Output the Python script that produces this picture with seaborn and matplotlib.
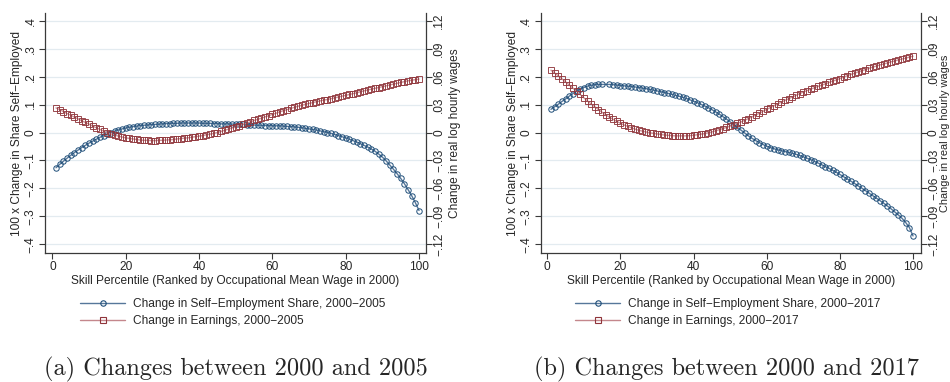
import numpy as np
import pandas as pd
import matplotlib
matplotlib.use("Agg")
import matplotlib.pyplot as plt
from matplotlib.lines import Line2D
import seaborn as sns

# ---------------- data ----------------
percentile = list(range(1, 101))

self_emp_2005 = [
    -0.126, -0.114, -0.103, -0.092, -0.082, -0.072, -0.063, -0.054, -0.046, -0.038,
    -0.031, -0.024, -0.017, -0.011, -0.005, 0.000, 0.005, 0.009, 0.013, 0.016,
    0.019, 0.021, 0.023, 0.025, 0.026, 0.027, 0.028, 0.029, 0.030, 0.031,
    0.032, 0.032, 0.033, 0.033, 0.034, 0.034, 0.034, 0.034, 0.034, 0.034,
    0.033, 0.033, 0.033, 0.032, 0.032, 0.031, 0.031, 0.031, 0.030, 0.030,
    0.029, 0.029, 0.028, 0.028, 0.027, 0.026, 0.026, 0.025, 0.025, 0.024,
    0.024, 0.024, 0.023, 0.022, 0.021, 0.020, 0.019, 0.017, 0.015, 0.013,
    0.011, 0.009, 0.006, 0.003, 0.000, -0.003, -0.007, -0.011, -0.015, -0.019,
    -0.024, -0.029, -0.034, -0.040, -0.046, -0.052, -0.059, -0.067, -0.077, -0.088,
    -0.101, -0.116, -0.131, -0.147, -0.164, -0.183, -0.204, -0.226, -0.251, -0.279,
]

earn_2005 = [
    0.0264, 0.0246, 0.0225, 0.0204, 0.0186, 0.0165, 0.0147, 0.0126, 0.0108, 0.0090,
    0.0069, 0.0051, 0.0033, 0.0015, -0.0003, -0.0015, -0.0027, -0.0039, -0.0048, -0.0057,
    -0.0063, -0.0069, -0.0075, -0.0081, -0.0084, -0.0084, -0.0087, -0.0087, -0.0084, -0.0084,
    -0.0081, -0.0078, -0.0075, -0.0069, -0.0066, -0.0060, -0.0057, -0.0051, -0.0045, -0.0039,
    -0.0033, -0.0024, -0.0018, -0.0009, 0.0000, 0.0012, 0.0024, 0.0036, 0.0048, 0.0060,
    0.0072, 0.0087, 0.0099, 0.0114, 0.0129, 0.0141, 0.0153, 0.0168, 0.0180, 0.0195,
    0.0207, 0.0222, 0.0234, 0.0246, 0.0258, 0.0270, 0.0282, 0.0291, 0.0303, 0.0312,
    0.0321, 0.0330, 0.0339, 0.0348, 0.0354, 0.0363, 0.0372, 0.0381, 0.0390, 0.0399,
    0.0408, 0.0417, 0.0426, 0.0438, 0.0447, 0.0456, 0.0465, 0.0474, 0.0483, 0.0492,
    0.0501, 0.0510, 0.0519, 0.0528, 0.0537, 0.0546, 0.0555, 0.0561, 0.0567, 0.0573,
]

self_emp_2017 = [
    0.083, 0.092, 0.101, 0.111, 0.120, 0.130, 0.139, 0.148, 0.155, 0.161,
    0.166, 0.169, 0.171, 0.172, 0.172, np.nan, 0.172, 0.171, 0.170, 0.168,
    0.167, 0.166, 0.164, 0.163, 0.161, 0.159, 0.157, 0.154, 0.152, 0.149,
    0.146, 0.143, 0.140, 0.137, 0.133, 0.130, 0.126, 0.122, 0.117, 0.112,
    0.107, 0.101, 0.095, 0.089, 0.082, 0.074, 0.066, 0.057, 0.048, 0.038,
    0.028, 0.018, 0.008, -0.002, -0.012, -0.021, -0.029, -0.036, -0.043, -0.049,
    -0.054, -0.058, -0.062, -0.065, -0.068, -0.071, -0.074, -0.078, -0.082, -0.087,
    -0.092, -0.097, -0.103, -0.109, -0.115, -0.122, -0.128, -0.135, -0.142, -0.150,
    -0.158, -0.166, -0.174, -0.182, -0.191, -0.199, -0.208, -0.217, -0.226, -0.235,
    -0.244, -0.253, -0.263, -0.273, -0.284, -0.295, -0.307, -0.322, -0.340, -0.370,
]

earn_2017 = [
    0.0669, 0.0639, 0.0609, 0.0576, 0.0543, 0.0510, 0.0477, 0.0441, 0.0408, 0.0372,
    0.0339, 0.0306, 0.0276, 0.0246, 0.0216, 0.0189, 0.0165, 0.0141, 0.0120, 0.0099,
    0.0081, 0.0066, 0.0051, 0.0036, 0.0024, 0.0015, 0.0006, -0.0003, -0.0009, -0.0015,
    -0.0021, -0.0027, -0.0030, -0.0033, -0.0036, -0.0036, -0.0036, -0.0036, -0.0033, -0.0030,
    -0.0024, -0.0018, -0.0012, -0.0003, 0.0006, 0.0018, 0.0030, 0.0042, 0.0054, 0.0069,
    0.0084, 0.0099, 0.0114, 0.0132, 0.0150, 0.0168, 0.0189, 0.0207, 0.0228, 0.0249,
    0.0267, 0.0288, 0.0306, 0.0327, 0.0345, 0.0363, 0.0381, 0.0399, 0.0417, 0.0435,
    0.0450, 0.0465, 0.0480, 0.0495, 0.0507, 0.0522, 0.0537, 0.0552, 0.0564, 0.0579,
    0.0594, 0.0609, 0.0624, 0.0636, 0.0651, 0.0663, 0.0675, 0.0690, 0.0702, 0.0714,
    0.0726, 0.0735, 0.0747, 0.0759, 0.0768, 0.0780, 0.0789, 0.0798, 0.0810, 0.0819,
]

left_ticks = [-0.4, -0.3, -0.2, -0.1, 0.0, 0.1, 0.2, 0.3, 0.4]
left_ticklabels = ["\u2212.4", "\u2212.3", "\u2212.2", "\u2212.1", "0", ".1", ".2", ".3", ".4"]
right_ticks = [-0.12, -0.09, -0.06, -0.03, 0.0, 0.03, 0.06, 0.09, 0.12]
right_ticklabels = ["\u2212.12", "\u2212.09", "\u2212.06", "\u2212.03", "0", ".03", ".06", ".09", ".12"]
x_ticks = [0, 20, 40, 60, 80, 100]

left_label = "100 x Change in Share Self\u2212Employed"
right_label = "Change in real log hourly wages"
x_label = "Skill Percentile (Ranked by Occupational Mean Wage in 2000)"

panels = [
    dict(se=self_emp_2005, er=earn_2005,
         se_lab="Change in Self\u2212Employment Share, 2000\u22122005",
         er_lab="Change in Earnings, 2000\u22122005",
         caption="(a) Changes between 2000 and 2005"),
    dict(se=self_emp_2017, er=earn_2017,
         se_lab="Change in Self\u2212Employment Share, 2000\u22122017",
         er_lab="Change in Earnings, 2000\u22122017",
         caption="(b) Changes between 2000 and 2017"),
]

# ---------------- style ----------------
sns.set_theme(style="white")
plt.rcParams["font.family"] = ["Liberation Sans", "DejaVu Sans"]
plt.rcParams["axes.unicode_minus"] = True

BLUE = "#1f4e79"
BLUE_LINE = "#56779a"
RED = "#90353b"
RED_LINE = "#c4878c"
GRID = "#e3ebf0"
SPINE = "#3a3a3a"
FS = 8.6

W, H = 950, 382
fig = plt.figure(figsize=(W / 100, H / 100), dpi=100)

# pixel geometry
geo = [
    dict(l=45, r=426, xlim=(-2.0, 101.9), leg_x=80, cap_x=236, rlab=455, rfs=8.6),
    dict(l=540.7, r=920.7, xlim=(-1.8, 102.1), leg_x=575, cap_x=726, rlab=945.3, rfs=7.9),
]
top_px, bot_px = 13, 253
ylim_left = (-0.431, 0.4275)

for p, g in zip(panels, geo):
    wpx = g["r"] - g["l"]
    ax = fig.add_axes([g["l"] / W, 1 - bot_px / H, wpx / W, (bot_px - top_px) / H])
    ax2 = ax.twinx()

    for yv in left_ticks:
        ax.axhline(yv, color=GRID, lw=0.9, zorder=0)

    df_se = pd.DataFrame({"x": percentile, "y": p["se"]})
    df_er = pd.DataFrame({"x": percentile, "y": p["er"]})

    sns.lineplot(data=df_se, x="x", y="y", ax=ax, color=BLUE_LINE, lw=1.0,
                 marker="o", markersize=3.9, markerfacecolor="none",
                 markeredgecolor=BLUE, markeredgewidth=0.7, zorder=3)
    sns.lineplot(data=df_er, x="x", y="y", ax=ax2, color=RED_LINE, lw=1.0,
                 marker="s", markersize=4.0, markerfacecolor="none",
                 markeredgecolor=RED, markeredgewidth=0.7, alpha=0.9, zorder=3)

    ax.set_xlim(*g["xlim"])
    ax.set_ylim(*ylim_left)
    ax2.set_ylim(ylim_left[0] * 0.3, ylim_left[1] * 0.3)

    ax.set_xticks(x_ticks)
    ax.set_xticklabels([str(t) for t in x_ticks], fontsize=FS)
    ax.set_yticks(left_ticks)
    ax.set_yticklabels(left_ticklabels, fontsize=FS, rotation=90, va="center")
    ax2.set_yticks(right_ticks)
    ax2.set_yticklabels(right_ticklabels, fontsize=FS, rotation=90, va="center")

    for a in (ax, ax2):
        a.tick_params(axis="both", direction="out", length=4, width=0.8,
                      color=SPINE, pad=2, labelsize=FS)
        a.spines["top"].set_visible(False)
        for s in a.spines.values():
            s.set_color(SPINE)
            s.set_linewidth(0.9)
    ax.tick_params(axis="y", which="both", left=True, right=False)
    ax2.tick_params(axis="y", which="both", right=True, left=False, pad=1.2)
    ax.tick_params(axis="x", bottom=True)
    ax.spines["right"].set_visible(False)
    ax2.spines["left"].set_visible(False)
    ax2.spines["bottom"].set_visible(False)

    ax.set_xlabel(x_label, fontsize=FS, labelpad=1)
    ax.set_ylabel(left_label, fontsize=FS, va="center")
    ax2.set_ylabel(right_label, fontsize=g["rfs"], va="center")
    ax.yaxis.set_label_coords(-28 / wpx, 0.5)
    ax2.yaxis.set_label_coords((g["rlab"] - g["l"]) / wpx, 0.5)

    handles = [
        Line2D([0], [0], color=BLUE_LINE, lw=1.0, marker="o", markersize=3.9,
               markerfacecolor="none", markeredgecolor=BLUE, markeredgewidth=0.8),
        Line2D([0], [0], color=RED_LINE, lw=1.0, marker="s", markersize=4.0,
               markerfacecolor="none", markeredgecolor=RED, markeredgewidth=0.8),
    ]
    fig.legend(handles, [p["se_lab"], p["er_lab"]], loc="upper left",
               bbox_to_anchor=(g["leg_x"] / W, 1 - 298 / H), frameon=False,
               fontsize=FS, handlelength=3.8, handletextpad=0.6, borderpad=0,
               borderaxespad=0, labelspacing=0.45)

    fig.text(g["cap_x"] / W, 1 - 369 / H, p["caption"], ha="center", va="center",
             fontsize=17.5, family=["cmr10", "DejaVu Serif"])

fig.savefig("out.png", dpi=100)
